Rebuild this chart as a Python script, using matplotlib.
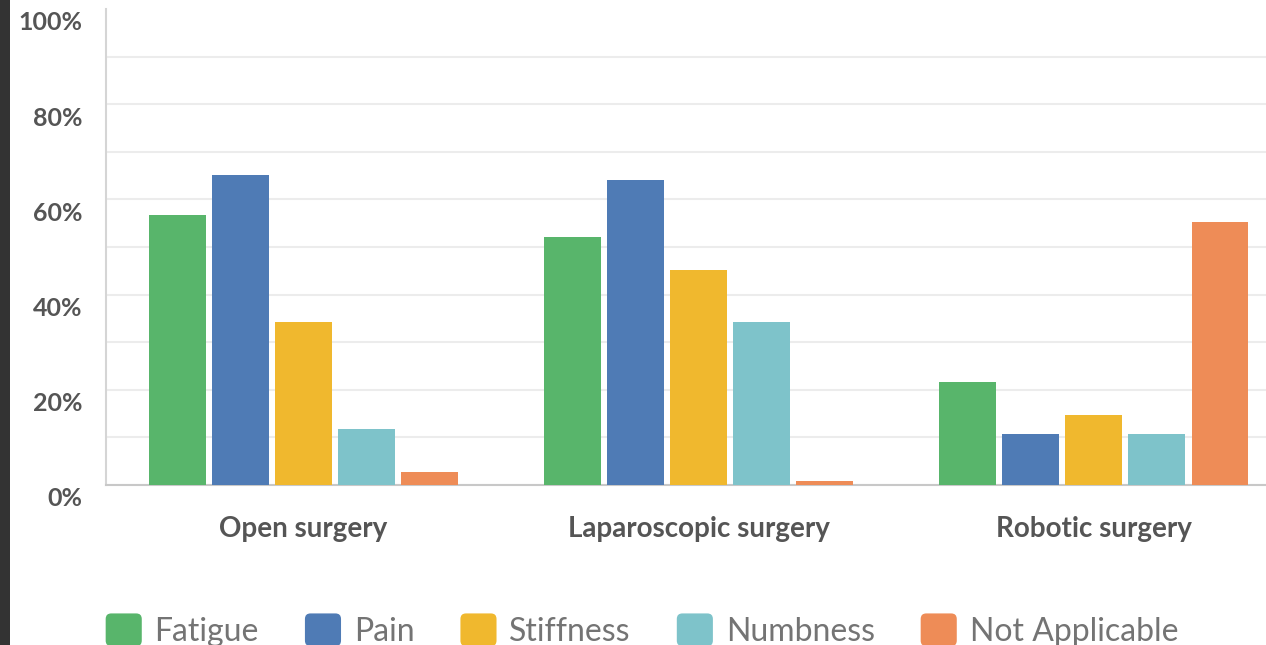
import numpy as np
import matplotlib
matplotlib.use("Agg")
import matplotlib.pyplot as plt
from matplotlib.patches import Patch, FancyBboxPatch, Rectangle
from matplotlib.legend_handler import HandlerPatch
from matplotlib.transforms import ScaledTranslation

plt.rcParams['font.family'] = ['Lato', 'DejaVu Sans']

categories = ["Open surgery", "Laparoscopic surgery", "Robotic surgery"]
series = ["Fatigue", "Pain", "Stiffness", "Numbness", "Not Applicable"]
fatigue = [56.7, 52.1, 21.6]
pain = [65.1, 64.1, 10.7]
stiffness = [34.2, 45.2, 14.7]
numbness = [11.8, 34.2, 10.7]
not_applicable = [2.7, 0.8, 55.3]
values = [fatigue, pain, stiffness, numbness, not_applicable]
colors = ["#58b56b", "#4f7bb5", "#f0b82e", "#7ec3ca", "#ee8c57"]
yticks = [0, 20, 40, 60, 80, 100]

fig = plt.figure(figsize=(12.66, 6.45), dpi=100)
fig.patch.set_facecolor("white")
# dark strip on the left edge of the screenshot
fig.patches.append(Rectangle((0, 0), 10 / 1266, 1, transform=fig.transFigure,
                             facecolor="#333333", edgecolor="none", zorder=0))

ax = fig.add_axes([106 / 1266, 160 / 645, 1185.5 / 1266, 476 / 645])
x = np.arange(len(categories))
step = 0.1595
width = 0.144
for i, (name, vals) in enumerate(zip(series, values)):
    ax.bar(x + (i - 2) * step, vals, width, color=colors[i], label=name, zorder=3)

ax.set_xlim(-0.5, 2.5)
ax.set_ylim(0, 100)
ax.set_yticks(yticks)
ax.set_yticklabels([f"{t}%" for t in yticks])
ax.set_yticks(np.arange(10, 100, 10), minor=True)
ax.grid(axis="y", which="both", color="#ececec", linewidth=1.5, zorder=0)
ax.set_axisbelow(True)
# top gridline not drawn in the original
for gl in ax.yaxis.get_gridlines():
    if gl.get_ydata()[0] == 100:
        gl.set_visible(False)

ax.set_xticks(x)
ax.set_xticklabels(categories)
for s in ["top", "right"]:
    ax.spines[s].set_visible(False)
ax.spines["left"].set_color("#d5d5d5")
ax.spines["bottom"].set_color("#c8c8c8")
ax.spines["left"].set_linewidth(1.5)
ax.spines["bottom"].set_linewidth(1.5)
ax.tick_params(axis="both", which="both", length=0)
ax.tick_params(axis="y", pad=17, labelsize=18, labelcolor="#555555")
ax.tick_params(axis="x", pad=22, labelsize=20, labelcolor="#555555")
for lab in ax.get_yticklabels():
    lab.set_fontweight("bold")
    lab.set_transform(lab.get_transform() + ScaledTranslation(0, -12 / 100, fig.dpi_scale_trans))
for lab in ax.get_xticklabels():
    lab.set_fontweight("bold")


def round_patch(legend, orig_handle, xdescent, ydescent, width, height, fontsize):
    return FancyBboxPatch((-xdescent, -ydescent), width, height,
                          boxstyle="round,pad=0,rounding_size=4")


handles = [Patch(facecolor=c, edgecolor="none", label=n) for c, n in zip(colors, series)]
leg = fig.legend(handles=handles, loc="center", bbox_to_anchor=(0.507, 15 / 645), ncol=5,
                 frameon=False, fontsize=23, handlelength=1.13, handleheight=1.2,
                 handletextpad=0.4, columnspacing=1.44, borderaxespad=0,
                 handler_map={Patch: HandlerPatch(patch_func=round_patch)})
for t in leg.get_texts():
    t.set_color("#747474")

fig.savefig("out.png", dpi=100)
